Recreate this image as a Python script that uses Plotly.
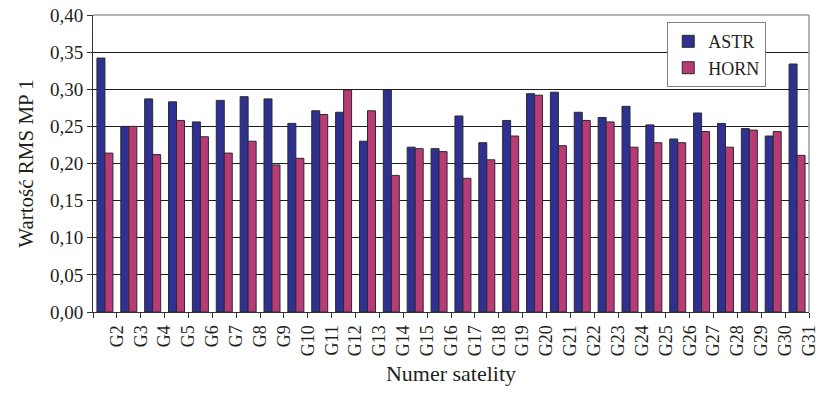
import plotly.graph_objects as go

categories = ["G%d" % i for i in range(1, 31)]
tick_labels = ["G%d" % i for i in range(2, 32)]
astr = [0.342, 0.250, 0.287, 0.283, 0.256, 0.285, 0.290, 0.287, 0.254, 0.271,
        0.269, 0.230, 0.299, 0.222, 0.220, 0.264, 0.228, 0.258, 0.294, 0.296,
        0.269, 0.262, 0.277, 0.252, 0.233, 0.268, 0.254, 0.247, 0.237, 0.334]
horn = [0.214, 0.250, 0.212, 0.258, 0.236, 0.214, 0.230, 0.198, 0.207, 0.266,
        0.299, 0.271, 0.184, 0.220, 0.216, 0.180, 0.205, 0.237, 0.292, 0.224,
        0.258, 0.256, 0.222, 0.228, 0.228, 0.243, 0.222, 0.245, 0.243, 0.211]

FONT = "Liberation Serif"
TXT = "#231f20"
xpos = list(range(len(categories)))

fig = go.Figure()
fig.add_trace(go.Bar(x=xpos, y=astr, name="ASTR", legendgroup="a",
                     marker=dict(color="#2e3192", line=dict(color="#2a2a2a", width=1))))
fig.add_trace(go.Bar(x=xpos, y=horn, name="HORN", legendgroup="h",
                     marker=dict(color="#b83b77", line=dict(color="#2a2a2a", width=1))))

tickvals = [-0.5] + [i + 0.5 for i in xpos]
ticktext = [""] + tick_labels

fig.update_layout(
    width=826, height=398,
    margin=dict(l=93, r=17, t=15, b=86),
    paper_bgcolor="white", plot_bgcolor="white",
    barmode="group", bargap=0.33, bargroupgap=0,
    separators=", ",
    font=dict(family=FONT, color=TXT, size=18),
    legend=dict(x=0.802, y=0.976, xanchor="left", yanchor="top",
                bgcolor="white", bordercolor="#808080", borderwidth=1,
                font=dict(family=FONT, size=18, color=TXT),
                traceorder="grouped", tracegroupgap=0, itemwidth=30),
    xaxis=dict(range=[-0.5, 29.5], tickmode="array", tickvals=tickvals, ticktext=ticktext,
               tickangle=-90, ticks="outside", ticklen=5, tickcolor="#333",
               showline=True, linecolor="#333", linewidth=1, showgrid=False, zeroline=False,
               automargin=False,
               tickfont=dict(family=FONT, size=18, color=TXT),
               title=dict(text="Numer satelity", font=dict(family=FONT, size=22, color=TXT), standoff=10)),
    yaxis=dict(range=[0, 0.4], dtick=0.05, tickformat=".2f",
               ticks="outside", ticklen=5, tickcolor="#333",
               showline=True, linecolor="#333", linewidth=1,
               showgrid=True, gridcolor="#1e1e1e", gridwidth=1, zeroline=False,
               automargin=False,
               tickfont=dict(family=FONT, size=19, color=TXT),
               title=dict(text="Wartość RMS MP 1", font=dict(family=FONT, size=21, color=TXT), standoff=10)),
    shapes=[
        dict(type="line", xref="paper", yref="paper", x0=0, x1=1, y0=1, y1=1,
             line=dict(color="#9a9a9a", width=1.5), layer="above"),
        dict(type="line", xref="paper", yref="paper", x0=1, x1=1, y0=0, y1=1,
             line=dict(color="#9a9a9a", width=1.5), layer="above"),
    ],
)

fig.write_html("out.html", config={"displayModeBar": False},
               post_script="document.body.style.margin='0';document.body.style.padding='0';")
